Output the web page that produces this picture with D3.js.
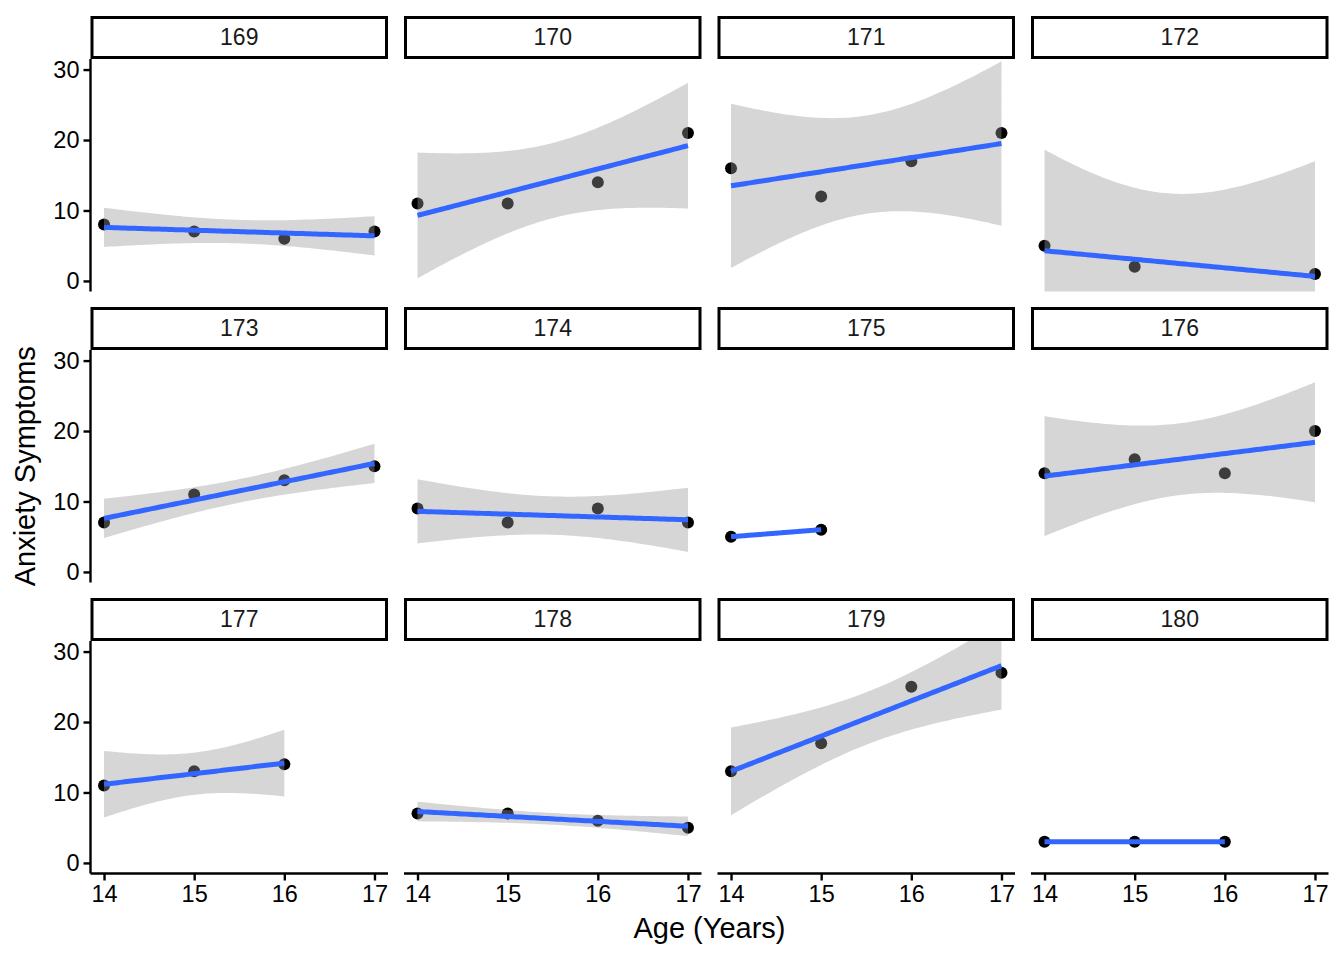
<!DOCTYPE html>
<html>
<head>
<meta charset="utf-8">
<script src="https://cdn.jsdelivr.net/npm/d3@7"></script>
<style>
  body { margin: 0; background: #fff; }
  svg { font-family: "Liberation Sans", Arial, Helvetica, sans-serif; }
</style>
</head>
<body>
<svg id="chart" width="1344" height="960"></svg>
<script>
// participant ids (one facet each)
const subjects = [169, 170, 171, 172, 173, 174, 175, 176, 177, 178, 179, 180];
// measurement ages
const ages = [14, 15, 16, 17];
// anxiety score per subject at each age (null = not measured)
const anxiety = [
  [8, 7, 6, 7],
  [11, 11, 14, 21],
  [16, 12, 17, 21],
  [5, 2, null, 1],
  [7, 11, 13, 15],
  [9, 7, 9, 7],
  [5, 6, null, null],
  [14, 16, 14, 20],
  [11, 13, 14, null],
  [7, 7, 6, 5],
  [13, 17, 25, 27],
  [3, 3, 3, null]
];
const yTicks = [0, 10, 20, 30];
const xTicks = [14, 15, 16, 17];

// t quantiles (0.975) for small df
const tq = {1: 12.7062, 2: 4.3027, 3: 3.1824, 4: 2.7764};

const svg = d3.select("#chart");
const nCol = 4;
const panelLeft0 = 90.5, panelW = 297.5, gapX = 16;
const stripTop0 = 16, stripH = 43, panelH = 232.5, rowStep = 291;

const x0 = d3.scaleLinear().domain([13.85, 17.15]).range([0, panelW]);
const y0 = d3.scaleLinear().domain([-1.5, 31.5]).range([panelH, 0]);

// lm fit with 95% confidence band, like geom_smooth(method = "lm")
function fitLm(pts) {
  const n = pts.length;
  const mx = d3.mean(pts, d => d.x), my = d3.mean(pts, d => d.y);
  const sxx = d3.sum(pts, d => (d.x - mx) ** 2);
  const sxy = d3.sum(pts, d => (d.x - mx) * (d.y - my));
  const b = sxy / sxx, a = my - b * mx;
  const sse = d3.sum(pts, d => (d.y - (a + b * d.x)) ** 2);
  const df = n - 2;
  const s = df > 0 ? Math.sqrt(sse / df) : NaN;
  const xs = d3.extent(pts, d => d.x);
  const grid = d3.range(80).map(i => xs[0] + (xs[1] - xs[0]) * i / 79);
  return grid.map(gx => {
    const fit = a + b * gx;
    const se = s * Math.sqrt(1 / n + (gx - mx) ** 2 / sxx);
    const w = df > 0 ? tq[df] * se : NaN;
    return { x: gx, y: fit, lo: fit - w, hi: fit + w };
  });
}

const defs = svg.append("defs");
defs.append("clipPath").attr("id", "pclip")
  .append("rect").attr("width", panelW).attr("height", panelH);

subjects.forEach((id, i) => {
  const col = i % nCol, row = Math.floor(i / nCol);
  const left = panelLeft0 + col * (panelW + gapX);
  const stripTop = stripTop0 + row * rowStep;
  const top = stripTop + stripH;

  // strip
  const strip = svg.append("g").attr("transform", `translate(${left},${stripTop})`);
  strip.append("rect")
    .attr("x", 1.5).attr("y", 1.5)
    .attr("width", panelW - 3).attr("height", stripH - 3)
    .attr("fill", "#fff").attr("stroke", "#000").attr("stroke-width", 3);
  strip.append("text")
    .attr("x", panelW / 2).attr("y", stripH / 2 - 1)
    .attr("dy", "0.35em")
    .attr("text-anchor", "middle")
    .style("font-size", "23px").attr("fill", "#1a1a1a")
    .text(id);

  const g = svg.append("g").attr("transform", `translate(${left},${top})`);
  const pts = ages.map((a, j) => ({ x: a, y: anxiety[i][j] })).filter(d => d.y != null);
  const fit = fitLm(pts);

  const plot = g.append("g").attr("clip-path", "url(#pclip)");
  plot.selectAll("circle").data(pts).enter().append("circle")
    .attr("cx", d => x0(d.x)).attr("cy", d => y0(d.y))
    .attr("r", 6).attr("fill", "#000");

  if (!isNaN(fit[0].lo)) {
    plot.append("path").datum(fit)
      .attr("d", d3.area().x(d => x0(d.x)).y0(d => y0(d.lo)).y1(d => y0(d.hi)))
      .attr("fill", "#999999").attr("fill-opacity", 0.4);
  }
  plot.append("path").datum(fit)
    .attr("d", d3.line().x(d => x0(d.x)).y(d => y0(d.y)))
    .attr("fill", "none").attr("stroke", "#3366FF").attr("stroke-width", 5);

  if (col === 0) {
    const ya = g.append("g").call(d3.axisLeft(y0).tickValues(yTicks).tickSize(7).tickPadding(4).tickFormat(d3.format("d")));
    ya.select(".domain").attr("d", `M0,0V${panelH}`).attr("stroke-width", 2.4);
    ya.selectAll(".tick line").attr("stroke-width", 2.4);
    ya.selectAll(".tick text").style("font-size", "23.5px").attr("fill", "#000")
      .style("font-family", "'Liberation Sans', Arial, sans-serif");
  }
  if (row === 2) {
    const xa = g.append("g").attr("transform", `translate(0,${panelH})`)
      .call(d3.axisBottom(x0).tickValues(xTicks).tickSize(7).tickPadding(5).tickFormat(d3.format("d")));
    xa.select(".domain").attr("d", `M0,0H${panelW}`).attr("stroke-width", 2.4);
    xa.selectAll(".tick line").attr("stroke-width", 2.4);
    xa.selectAll(".tick text").style("font-size", "23.5px").attr("fill", "#000")
      .style("font-family", "'Liberation Sans', Arial, sans-serif");
  }
});

// axis titles
const plotLeft = panelLeft0, plotRight = panelLeft0 + 4 * panelW + 3 * gapX;
const plotTop = stripTop0 + stripH, plotBottom = stripTop0 + 2 * rowStep + stripH + panelH;
svg.append("text")
  .attr("x", (plotLeft + plotRight) / 2).attr("y", 938)
  .attr("text-anchor", "middle").style("font-size", "29px").attr("fill", "#000")
  .text("Age (Years)");
svg.append("text")
  .attr("transform", `translate(35,${(plotTop + plotBottom) / 2}) rotate(-90)`)
  .attr("text-anchor", "middle").style("font-size", "29px").attr("fill", "#000")
  .text("Anxiety Symptoms");
</script>
</body>
</html>
